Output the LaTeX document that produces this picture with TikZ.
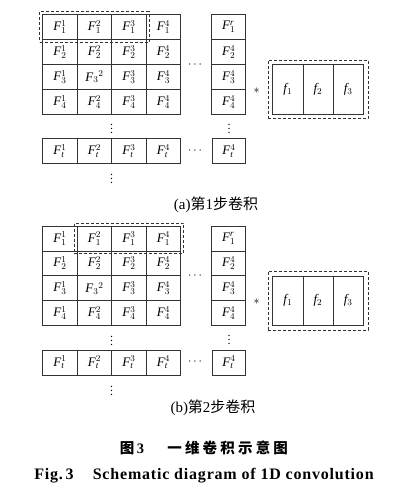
\documentclass[tikz,border=0pt]{standalone}
\usepackage{fontspec}
\setmainfont{Liberation Serif}
\newfontfamily\cjk{Noto Sans CJK SC}
\usetikzlibrary{fit,calc}
\tikzset{
  cell/.style={draw=black!80,line width=0.8pt,minimum width=34.5pt,minimum height=24.9pt,inner sep=0pt,font=\fontsize{13}{15}\selectfont},
  fcell/.style={draw=black!80,line width=0.8pt,minimum width=30.2pt,minimum height=49.5pt,inner sep=0pt,font=\fontsize{13}{15}\selectfont},
  win/.style={draw=black!80,dashed,line width=0.9pt,dash pattern=on 3pt off 2pt},
  dotnode/.style={inner sep=0pt,font=\fontsize{12}{14}\selectfont},
  captext/.style={inner sep=0pt,font=\fontsize{15}{17}\selectfont}
}
\newcommand\FF{\mathit{F}}
\newcommand\drawpanel[4]{%
  % #1 prefix, #2 grid top, #3 first window cell, #4 last window cell
  \foreach \r in {1,...,4}{
    \foreach \c in {1,...,4}{
      \node[cell] (#1\r\c) at ({42.7+34.5*(\c-0.5)},{#2+24.9*(\r-0.5)})
        {\ifnum\r\c=32 $\FF_3{}^2$\else $\FF_{\r}^{\c}$\fi};
    }
  }
  \foreach \c in {1,...,4}{
    \node[cell] (#1t\c) at ({42.7+34.5*(\c-0.5)},{#2+124+12.45}) {$\FF_{\mathit{t}}^{\c}$};
  }
  \node[cell,minimum width=34.2pt] (#1r1) at (228.6,{#2+24.9*0.5}) {$\FF_1^{\mathit{r}}$};
  \node[cell,minimum width=34.2pt] (#1r2) at (228.6,{#2+24.9*1.5}) {$\FF_2^4$};
  \node[cell,minimum width=34.2pt] (#1r3) at (228.6,{#2+24.9*2.5}) {$\FF_3^4$};
  \node[cell,minimum width=34.2pt] (#1r4) at (228.6,{#2+24.9*3.5}) {$\FF_4^4$};
  \node[cell,minimum width=33.4pt] (#1rt) at (229,{#2+124+12.45}) {$\FF_{\mathit{t}}^4$};
  \node[dotnode] (#1vd1) at (111.7,{#2+111.5}) {$\vdots$};
  \node[dotnode] (#1vd2) at (111.7,{#2+161.5}) {$\vdots$};
  \node[dotnode] (#1vd3) at (229,{#2+111}) {$\vdots$};
  \node[dotnode] (#1hd1) at (195,{#2+50}) {$\cdots$};
  \node[dotnode] (#1hd2) at (195,{#2+136}) {$\cdots$};
  \node[dotnode] (#1ast) at (256.7,{#2+76}) {$*$};
  \node[fcell] (#1f1) at (287.8,{#2+74.75}) {$\mathit{f}_1$};
  \node[fcell] (#1f2) at (318.0,{#2+74.75}) {$\mathit{f}_2$};
  \node[fcell] (#1f3) at (348.2,{#2+74.75}) {$\mathit{f}_3$};
  \node[win,inner sep=4.3pt,fit=(#1f1)(#1f3)] (#1fw) {};
  \node[win,inner sep=2.5pt,fit=(#3)(#4)] (#1w) {};
}
\begin{document}
\begin{tikzpicture}[x=1pt,y=-1pt]
\useasboundingbox (0,0) rectangle (418,492);
\drawpanel{a}{14.7}{a11}{a13}
\drawpanel{b}{226}{b12}{b14}
\node[captext] (capa) at (216,205) {(a){\cjk 第}1{\cjk 步卷积}};
\node[captext] (capb) at (213,408) {(b){\cjk 第}2{\cjk 步卷积}};
\node[inner sep=0pt,font=\fontsize{14.5}{16}\selectfont\bfseries] (title) at (204,448)
  {{\cjk\addfontfeatures{LetterSpace=22} 图}\,3\hspace{1.6em}{\cjk\addfontfeatures{LetterSpace=22}一维卷积示意图}};
\node[inner sep=0pt,font=\fontsize{16}{18}\selectfont\bfseries\addfontfeatures{LetterSpace=5}] (figen) at (204,475.5)
  {Fig.\,3\hspace{1.2em}Schematic diagram of 1D convolution};
\end{tikzpicture}
\end{document}
